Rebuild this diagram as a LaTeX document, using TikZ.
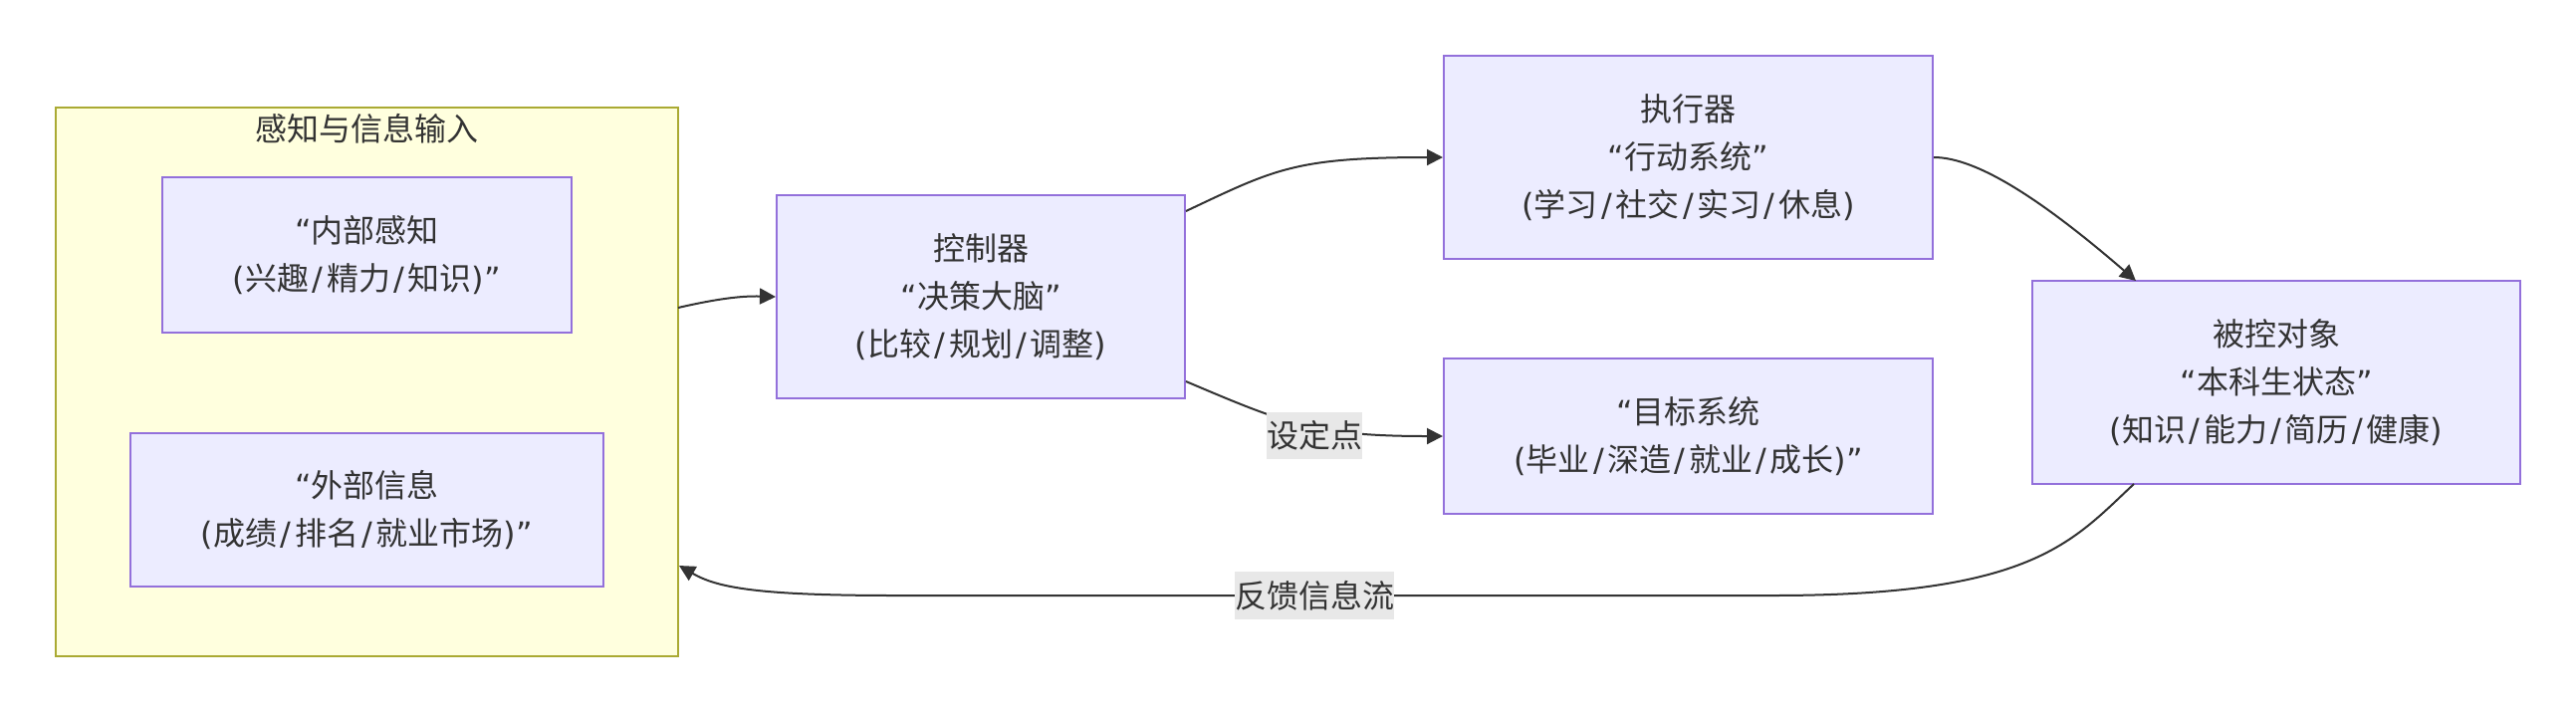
\documentclass[tikz,border=0pt]{standalone}
\usepackage{fontspec}
\setmainfont{Noto Sans CJK SC}
\newfontfamily\latinf{DejaVu Sans}
\newcommand{\oqt}{{\latinf “}}
\newcommand{\cqt}{{\latinf ”}}
\newcommand{\opr}{{\latinf (}}
\newcommand{\cpr}{{\latinf )}}
\newcommand{\slsh}{{\latinf\kern3.5pt/\kern3.5pt}}
\usetikzlibrary{arrows.meta}
\definecolor{nodefill}{HTML}{ECECFF}
\definecolor{nodeline}{HTML}{9370DB}
\definecolor{clfill}{HTML}{FFFFDE}
\definecolor{clline}{HTML}{AAAA33}
\definecolor{edgecol}{HTML}{333333}
\definecolor{txtcol}{HTML}{333333}
\definecolor{lblfill}{HTML}{E8E8E8}
\begin{document}
\begin{tikzpicture}[x=1pt,y=-1pt,
  every node/.style={font=\fontsize{32pt}{48pt}\selectfont, text=txtcol},
  procbox/.style={draw=nodeline, fill=nodefill, line width=2pt, inner sep=0pt, align=center},
  clusterbox/.style={draw=clline, fill=clfill, line width=2pt, inner sep=0pt},
  flow/.style={draw=edgecol, line width=2pt, -{Triangle[length=16pt,width=16pt]}},
  edgelabel/.style={fill=lblfill, inner sep=0pt, minimum height=47pt, minimum width=96pt}
]
\useasboundingbox (0,0) rectangle (2587,716);
\fill[white] (0,0) rectangle (2587,716);

% cluster
\node[clusterbox, minimum width=625pt, minimum height=551pt] (clus) at (368.5,383.5) {};
\node (clustitle) at (368.5,129) {感知与信息输入};
\node[procbox, minimum width=411pt, minimum height=156pt] (inner) at (368.5,256) {\oqt 内部感知\\\opr 兴趣\slsh 精力\slsh 知识\cpr\cqt};
\node[procbox, minimum width=475pt, minimum height=154pt] (outer) at (368.5,512) {\oqt 外部信息\\\opr 成绩\slsh 排名\slsh 就业市场\cpr\cqt};

% main nodes
\node[procbox, minimum width=410pt, minimum height=204pt] (ctrl) at (985,298) {控制器\\\oqt 决策大脑\cqt\\\opr 比较\slsh 规划\slsh 调整\cpr};
\node[procbox, minimum width=491pt, minimum height=204pt] (exe) at (1695.5,158) {执行器\\\oqt 行动系统\cqt\\\opr 学习\slsh 社交\slsh 实习\slsh 休息\cpr};
\node[procbox, minimum width=491pt, minimum height=156pt] (tgt) at (1695.5,438) {\oqt 目标系统\\\opr 毕业\slsh 深造\slsh 就业\slsh 成长\cpr\cqt};
\node[procbox, minimum width=490pt, minimum height=204pt] (plant) at (2286,384) {被控对象\\\oqt 本科生状态\cqt\\\opr 知识\slsh 能力\slsh 简历\slsh 健康\cpr};

% connector end points on borders
\coordinate (cout) at (681,309);
\coordinate (c2e) at (1191,212);
\coordinate (c2t) at (1191,383);
\coordinate (eout) at (1942,158);
\coordinate (pin) at (2145,282);
\coordinate (pout) at (2143,486);
\coordinate (cin) at (682,568);

% connectors
\draw[flow] (cout) .. controls (720,300) and (745,297) .. (ctrl.west);
\draw[flow] (c2e) .. controls (1280,170) and (1300,158) .. (exe.west);
\draw[flow] (c2t) .. controls (1290,425) and (1320,438) .. (tgt.west);
\draw[flow] (eout) .. controls (1985,158) and (2050,200) .. (pin);
\draw[flow] (pout) .. controls (2080,545) and (2040,598) .. (1780,598) -- (900,598) .. controls (760,598) and (720,590) .. (cin);

% edge labels
\node[edgelabel] (lbl1) at (1320,437.5) {设定点};
\node[edgelabel, minimum width=160pt, minimum height=48pt] (lbl2) at (1320,598) {反馈信息流};
\end{tikzpicture}
\end{document}
